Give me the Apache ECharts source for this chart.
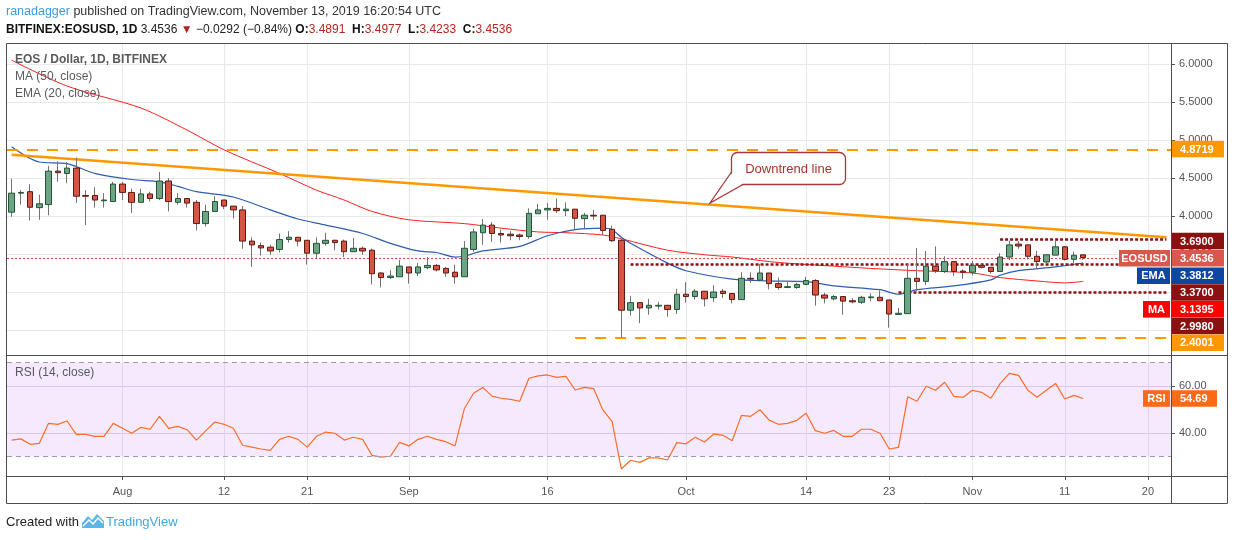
<!DOCTYPE html>
<html>
<head>
<meta charset="utf-8">
<title>EOS / Dollar, 1D, BITFINEX</title>
<script src="https://cdn.jsdelivr.net/npm/echarts/dist/echarts.min.js"></script>
<style>
  html, body { margin: 0; padding: 0; background: #ffffff; }
  #chart { width: 1234px; height: 540px; }
</style>
</head>
<body>
<div id="chart"></div>
<script>
// daily candles, 2019-07-20 .. 2019-11-13 (axis runs on to 2019-11-22)
var dates = [];
(function () {
  var t0 = Date.UTC(2019, 6, 20);
  for (var i = 0; i < 126; i++) {
    dates.push(new Date(t0 + i * 86400000).toISOString().slice(0, 10));
  }
})();

var tickDates = ['2019-08-01', '2019-08-12', '2019-08-21', '2019-09-01', '2019-09-16', '2019-10-01',
  '2019-10-14', '2019-10-23', '2019-11-01', '2019-11-11', '2019-11-20'];
var tickLabels = ['Aug', '12', '21', 'Sep', '16', 'Oct', '14', '23', 'Nov', '11', '20'];

var opens = [4.05, 4.30, 4.32, 4.11, 4.15, 4.59, 4.56, 4.63, 4.27, 4.27,
  4.20, 4.19, 4.42, 4.31, 4.18, 4.29, 4.23, 4.46, 4.18, 4.23,
  4.18, 3.90, 4.06, 4.21, 4.13, 4.08, 3.67, 3.61, 3.59, 3.56,
  3.69, 3.72, 3.68, 3.51, 3.64, 3.68, 3.67, 3.53, 3.575, 3.55,
  3.25, 3.19, 3.20, 3.33, 3.25, 3.32, 3.35, 3.31, 3.26, 3.20,
  3.56, 3.78, 3.88, 3.77, 3.76, 3.75, 3.73, 4.03, 4.08, 4.10,
  4.07, 4.09, 3.965, 4.01, 4.01, 3.825, 3.68, 2.76, 2.86, 2.79,
  2.815, 2.825, 2.77, 2.97, 2.94, 3.01, 2.925, 3.01, 2.98, 2.90,
  3.18, 3.155, 3.25, 3.11, 3.06, 3.06, 3.10, 3.15, 2.96, 2.91,
  2.94, 2.885, 2.865, 2.925, 2.93, 2.895, 2.705, 2.715, 3.18, 3.14,
  3.34, 3.27, 3.40, 3.275, 3.26, 3.35, 3.325, 3.27, 3.46, 3.63,
  3.62, 3.47, 3.395, 3.485, 3.595, 3.43, 3.4891];
var highs = [4.49, 4.34, 4.42, 4.28, 4.66, 4.72, 4.71, 4.77, 4.34, 4.38,
  4.30, 4.45, 4.45, 4.36, 4.36, 4.32, 4.58, 4.50, 4.30, 4.23,
  4.21, 4.15, 4.26, 4.21, 4.13, 4.13, 3.72, 3.65, 3.62, 3.77,
  3.80, 3.72, 3.68, 3.72, 3.78, 3.69, 3.69, 3.71, 3.60, 3.57,
  3.26, 3.29, 3.42, 3.33, 3.38, 3.46, 3.37, 3.33, 3.36, 3.67,
  3.83, 3.96, 3.92, 3.82, 3.80, 3.77, 4.10, 4.16, 4.17, 4.23,
  4.18, 4.09, 4.04, 4.08, 4.01, 3.87, 3.70, 2.95, 2.86, 2.91,
  2.87, 2.825, 3.04, 3.13, 3.04, 3.01, 3.09, 3.04, 2.98, 3.26,
  3.26, 3.37, 3.25, 3.19, 3.14, 3.12, 3.20, 3.17, 2.99, 2.96,
  2.94, 2.92, 2.95, 2.98, 3.02, 2.895, 2.79, 3.38, 3.58, 3.54,
  3.60, 3.47, 3.40, 3.30, 3.41, 3.37, 3.325, 3.51, 3.675, 3.67,
  3.62, 3.54, 3.49, 3.69, 3.605, 3.53, 3.4977];
var lows = [3.99, 4.15, 3.94, 3.95, 4.01, 4.45, 4.43, 4.17, 3.88, 4.11,
  4.11, 4.19, 4.21, 4.04, 4.17, 4.19, 4.21, 4.06, 4.15, 4.11,
  3.81, 3.86, 4.06, 4.09, 3.97, 3.57, 3.33, 3.48, 3.49, 3.52,
  3.65, 3.60, 3.36, 3.44, 3.61, 3.55, 3.46, 3.53, 3.49, 3.10,
  3.06, 3.17, 3.20, 3.11, 3.21, 3.30, 3.27, 3.20, 3.11, 3.20,
  3.53, 3.62, 3.66, 3.65, 3.68, 3.68, 3.70, 4.03, 3.95, 4.04,
  4.00, 3.82, 3.825, 3.95, 3.75, 3.66, 2.40, 2.69, 2.59, 2.70,
  2.77, 2.675, 2.71, 2.86, 2.90, 2.81, 2.87, 2.92, 2.85, 2.90,
  3.12, 3.14, 3.035, 3.03, 3.05, 3.04, 3.09, 2.82, 2.85, 2.89,
  2.70, 2.85, 2.84, 2.88, 2.885, 2.53, 2.70, 2.715, 3.01, 3.09,
  3.25, 3.25, 3.21, 3.175, 3.22, 3.31, 3.24, 3.27, 3.42, 3.57,
  3.43, 3.30, 3.38, 3.485, 3.415, 3.38, 3.4233];
var closes = [4.30, 4.31, 4.115, 4.16, 4.59, 4.57, 4.63, 4.26, 4.26, 4.21,
  4.21, 4.42, 4.31, 4.18, 4.29, 4.23, 4.46, 4.19, 4.23, 4.17,
  3.90, 4.06, 4.19, 4.13, 4.08, 3.67, 3.62, 3.58, 3.54, 3.69,
  3.72, 3.67, 3.51, 3.64, 3.68, 3.65, 3.53, 3.575, 3.54, 3.24,
  3.19, 3.21, 3.34, 3.25, 3.33, 3.35, 3.29, 3.25, 3.20, 3.575,
  3.79, 3.88, 3.77, 3.75, 3.74, 3.73, 4.035, 4.08, 4.10, 4.07,
  4.09, 3.97, 4.01, 4.00, 3.81, 3.675, 2.76, 2.86, 2.79, 2.825,
  2.825, 2.77, 2.97, 2.94, 3.01, 2.91, 3.00, 2.98, 2.90, 3.18,
  3.17, 3.25, 3.11, 3.06, 3.07, 3.10, 3.15, 2.96, 2.92, 2.94,
  2.88, 2.87, 2.93, 2.935, 2.885, 2.71, 2.72, 3.18, 3.14, 3.34,
  3.28, 3.40, 3.27, 3.26, 3.35, 3.325, 3.27, 3.46, 3.62, 3.605,
  3.47, 3.40, 3.49, 3.595, 3.43, 3.4828, 3.4536];

// indicator lines
var ma50 = [['2019-07-20', 6.05], ['2019-07-26', 5.71], ['2019-08-03', 5.42], ['2019-08-08', 5.13],
  ['2019-08-12', 4.87], ['2019-08-18', 4.56], ['2019-08-22', 4.34], ['2019-08-25', 4.21],
  ['2019-08-28', 4.06], ['2019-09-01', 3.95], ['2019-09-07', 3.90], ['2019-09-11', 3.84],
  ['2019-09-15', 3.79], ['2019-09-18', 3.78], ['2019-09-22', 3.75], ['2019-09-24', 3.70],
  ['2019-09-29', 3.55], ['2019-10-03', 3.49], ['2019-10-06', 3.46], ['2019-10-10', 3.40],
  ['2019-10-13', 3.37], ['2019-10-17', 3.34], ['2019-10-21', 3.31], ['2019-10-26', 3.28],
  ['2019-11-01', 3.25], ['2019-11-04', 3.19], ['2019-11-08', 3.145], ['2019-11-11', 3.12],
  ['2019-11-13', 3.1395]];
var ema20 = [['2019-07-20', 4.91], ['2019-07-23', 4.71], ['2019-07-26', 4.69], ['2019-07-29', 4.56],
  ['2019-08-02', 4.48], ['2019-08-05', 4.45], ['2019-08-07', 4.39], ['2019-08-09', 4.32],
  ['2019-08-13', 4.25], ['2019-08-17', 4.08], ['2019-08-20', 3.96], ['2019-08-23', 3.88],
  ['2019-08-27', 3.77], ['2019-08-30', 3.64], ['2019-09-02', 3.54], ['2019-09-04', 3.52],
  ['2019-09-06', 3.46], ['2019-09-07', 3.47], ['2019-09-09', 3.54], ['2019-09-13', 3.60],
  ['2019-09-16', 3.74], ['2019-09-19', 3.82], ['2019-09-22', 3.84], ['2019-09-23', 3.82],
  ['2019-09-24', 3.72], ['2019-09-25', 3.64], ['2019-09-29', 3.38], ['2019-10-01', 3.28],
  ['2019-10-06', 3.17], ['2019-10-10', 3.145], ['2019-10-14', 3.136], ['2019-10-17', 3.08],
  ['2019-10-22', 3.03], ['2019-10-24', 2.97], ['2019-10-26', 3.03], ['2019-10-30', 3.08],
  ['2019-11-03', 3.16], ['2019-11-04', 3.22], ['2019-11-06', 3.28], ['2019-11-10', 3.33],
  ['2019-11-13', 3.3812]];
var rsi14 = [37.0, 37.5, 35.2, 35.6, 44.1, 43.7, 45.1, 39.4, 39.4, 38.6,
  38.6, 44.1, 42.0, 39.9, 42.4, 41.6, 47.1, 42.0, 42.8, 41.4,
  37.0, 40.9, 44.7, 43.7, 42.0, 34.8, 34.0, 33.2, 32.6, 37.3,
  38.6, 37.3, 34.0, 38.6, 40.4, 39.9, 37.0, 38.2, 37.3, 30.5,
  29.7, 30.1, 36.0, 34.5, 37.3, 38.6, 37.3, 36.3, 34.5, 50.3,
  56.9, 59.4, 55.7, 54.8, 54.3, 53.5, 63.3, 64.3, 64.7, 63.7,
  64.1, 58.3, 59.4, 58.9, 49.8, 44.8, 24.7, 28.4, 27.5, 29.4,
  29.4, 28.5, 35.9, 35.4, 38.2, 36.2, 39.6, 39.0, 36.7, 47.5,
  47.1, 49.9, 45.5, 43.7, 44.1, 45.4, 48.4, 41.0, 39.9, 41.1,
  38.6, 38.6, 41.6, 41.6, 39.9, 33.2, 33.9, 55.4, 53.5, 59.9,
  58.2, 61.6, 55.6, 55.2, 58.2, 57.3, 54.8, 61.0, 65.4, 64.5,
  58.2, 55.2, 58.2, 61.1, 54.5, 56.0, 54.69];

var trendLine = [['2019-07-20', 4.807], ['2019-11-22', 3.72]];
var levelValues = [4.8719, 3.69, 3.37, 2.998, 2.4001];
var levelStarts = [null, '2019-11-04', '2019-09-25', '2019-10-24', '2019-09-19'];
var rsiBand = [30, 70];

// styles for the levels
var ORANGE = '#ff9800', DARKRED = '#8b1010';
var levelStyles = [
  { color: ORANGE, width: 2, type: [11, 9] },
  { color: DARKRED, width: 2.5, type: [3, 2] },
  { color: DARKRED, width: 2.5, type: [3, 2] },
  { color: DARKRED, width: 2.5, type: [3, 2] },
  { color: ORANGE, width: 2, type: [11, 9] }
];

var FONT = '"Liberation Sans", Arial, sans-serif';
var last = closes.length - 1;

function isTick(index, value) { return tickDates.indexOf(value) >= 0; }

var wickData = [], bodyData = [];
for (var i = 0; i < closes.length; i++) {
  wickData.push([opens[i], closes[i], lows[i], highs[i]]);
  bodyData.push([opens[i], closes[i], Math.min(opens[i], closes[i]), Math.max(opens[i], closes[i])]);
}

var levelLines = [];
levelValues.forEach(function (v, k) {
  if (levelStarts[k] === null) {
    levelLines.push({ yAxis: v, lineStyle: levelStyles[k] });
  } else {
    levelLines.push([
      { coord: [levelStarts[k], v], lineStyle: levelStyles[k] },
      { coord: [dates[dates.length - 1], v], lineStyle: levelStyles[k] }
    ]);
  }
});
levelLines.push({ yAxis: closes[last], lineStyle: { color: '#e2463a', width: 1, type: [2, 2] } });

// right-hand price tags (layout only, texts come from the data)
var tags = [
  { name: null, text: levelValues[0].toFixed(4), color: ORANGE, y: 149 },
  { name: null, text: levelValues[1].toFixed(4), color: DARKRED, y: 241 },
  { name: 'EOSUSD', text: closes[last].toFixed(4), color: '#d9584a', y: 258.3, nameX: 1119 },
  { name: 'EMA', text: ema20[ema20.length - 1][1].toFixed(4), color: '#0d47a1', y: 275.7, nameX: 1137 },
  { name: null, text: levelValues[2].toFixed(4), color: DARKRED, y: 292.5 },
  { name: 'MA', text: ma50[ma50.length - 1][1].toFixed(4), color: '#ff0000', y: 309.3, nameX: 1143 },
  { name: null, text: levelValues[3].toFixed(4), color: DARKRED, y: 326 },
  { name: null, text: levelValues[4].toFixed(4), color: ORANGE, y: 342.7 },
  { name: 'RSI', text: rsi14[last].toFixed(2), color: '#fd6a17', y: 398.5, nameX: 1143, w: 45 }
];

var graphics = [];
function txt(x, y, s, font, fill, align) {
  graphics.push({ type: 'text', z: 120, silent: true,
    style: { x: x, y: y, text: s, font: font, fill: fill, align: align || 'left', verticalAlign: 'middle' } });
}
function ln(x1, y1, x2, y2, color, w) {
  graphics.push({ type: 'line', z: 110, silent: true,
    shape: { x1: x1, y1: y1, x2: x2, y2: y2 }, style: { stroke: color, lineWidth: w || 1 } });
}

// frame
graphics.push({ type: 'rect', z: 110, silent: true, shape: { x: 6.5, y: 43.5, width: 1221, height: 460 },
  style: { fill: 'none', stroke: '#4d4d4d', lineWidth: 1 } });
ln(6, 355.5, 1228, 355.5, '#4d4d4d');
ln(6, 476.5, 1228, 476.5, '#4d4d4d');
ln(1171.5, 43, 1171.5, 503, '#4d4d4d');

tags.forEach(function (t) {
  var h = 16.6, w = t.w || 52;
  graphics.push({ type: 'rect', z: 115, silent: true, shape: { x: 1172, y: t.y - h / 2, width: w, height: h },
    style: { fill: t.color } });
  ln(1172, t.y, 1176, t.y, '#ffffff');
  txt(1180, t.y + 0.5, t.text, 'bold 11px ' + FONT, '#ffffff');
  if (t.name) {
    graphics.push({ type: 'rect', z: 115, silent: true, shape: { x: t.nameX, y: t.y - h / 2, width: 1170 - t.nameX, height: h },
      style: { fill: t.color } });
    txt((t.nameX + 1170) / 2, t.y + 0.5, t.name, 'bold 11px ' + FONT, '#ffffff', 'center');
  }
});

// header
graphics.push({ type: 'text', z: 120, silent: true, style: { x: 6, y: 12, verticalAlign: 'middle',
  text: '{u|ranadagger} published on TradingView.com, November 13, 2019 16:20:54 UTC',
  font: '12.5px ' + FONT, fill: '#333333',
  rich: { u: { fill: '#3b9be0', font: '12.5px ' + FONT } } } });
graphics.push({ type: 'text', z: 120, silent: true, style: { x: 6, y: 30, verticalAlign: 'middle',
  text: '{b|BITFINEX:EOSUSD, 1D} 3.4536 {r|\u25BC} \u22120.0292 (\u22120.84%) {b|O:}{r|3.4891}  {b|H:}{r|3.4977}  {b|L:}{r|3.4233}  {b|C:}{r|3.4536}',
  font: '12px ' + FONT, fill: '#222222',
  rich: { b: { font: 'bold 12px ' + FONT, fill: '#111111' }, r: { font: '12px ' + FONT, fill: '#b3261e' } } } });

// pane legends
txt(15, 60, 'EOS / Dollar, 1D, BITFINEX', 'bold 12px ' + FONT, '#5a5a5a');
txt(15, 77, 'MA (50, close)', '12px ' + FONT, '#5a5a5a');
txt(15, 94, 'EMA (20, close)', '12px ' + FONT, '#5a5a5a');
txt(15, 373, 'RSI (14, close)', '12px ' + FONT, '#5a5a5a');

// callout
graphics.push({ type: 'rect', z: 112, silent: true, shape: { x: 731.5, y: 152.5, width: 114, height: 32, r: 6 },
  style: { fill: '#ffffff', stroke: '#a8393a', lineWidth: 1.3 } });
graphics.push({ type: 'polygon', z: 113, silent: true, shape: { points: [[732.8, 172], [711, 202], [743, 183.8]] },
  style: { fill: '#ffffff' } });
graphics.push({ type: 'polyline', z: 114, silent: true, shape: { points: [[731.5, 172], [710, 203], [743, 184.5]] },
  style: { stroke: '#a8393a', lineWidth: 1.3, fill: null } });
txt(788.5, 169, 'Downtrend line', '13px ' + FONT, '#a8322d', 'center');

// footer
txt(6, 522, 'Created with', '13px ' + FONT, '#222222');
graphics.push({ type: 'polygon', z: 120, silent: true,
  shape: { points: [[82, 528], [82, 523], [88, 516], [92, 520], [97, 514], [104, 521], [104, 528]] },
  style: { fill: '#5cb6e8' } });
graphics.push({ type: 'polyline', z: 121, silent: true,
  shape: { points: [[83, 526], [89, 520], [93, 524], [98, 518], [103, 523]] },
  style: { stroke: '#ffffff', lineWidth: 1.4, fill: null } });
txt(106, 522, 'TradingView', '13px ' + FONT, '#43a6e2');

var gridLine = { color: '#e8e8e8', width: 1 };

var option = {
  animation: false,
  backgroundColor: '#ffffff',
  textStyle: { fontFamily: FONT },
  grid: [
    { left: 7, right: 63, top: 43, height: 312 },
    { left: 7, right: 63, top: 355, height: 121 }
  ],
  xAxis: [
    { type: 'category', gridIndex: 0, data: dates, boundaryGap: true,
      axisLine: { show: false }, axisTick: { show: false }, axisLabel: { show: false },
      splitLine: { show: true, interval: isTick, alignWithLabel: true, lineStyle: gridLine } },
    { type: 'category', gridIndex: 1, data: dates, boundaryGap: true,
      axisLine: { show: false },
      axisTick: { show: true, interval: isTick, alignWithLabel: true, length: 4, lineStyle: { color: '#555555' } },
      axisLabel: { show: true, interval: isTick, color: '#555555', fontSize: 11, margin: 10,
        formatter: function (v) { var k = tickDates.indexOf(v); return k >= 0 ? tickLabels[k] : ''; } },
      splitLine: { show: true, interval: isTick, alignWithLabel: true, lineStyle: gridLine } }
  ],
  yAxis: [
    { type: 'value', gridIndex: 0, position: 'right', min: 2.171, max: 6.276, splitNumber: 8, scale: true,
      axisLine: { show: false },
      axisTick: { show: true, length: 4, lineStyle: { color: '#555555' } },
      axisLabel: { color: '#555555', fontSize: 11, margin: 8, showMinLabel: false, showMaxLabel: false,
        formatter: function (v) {
          var k = Math.round(v * 2);
          return (Math.abs(v * 2 - k) < 1e-6 && v >= 2.5 && v <= 6.0) ? v.toFixed(4) : '';
        } },
      splitLine: { show: true, lineStyle: gridLine } },
    { type: 'value', gridIndex: 1, position: 'right', min: 21.7, max: 73.2, splitNumber: 3, scale: true,
      axisLine: { show: false },
      axisTick: { show: true, length: 4, lineStyle: { color: '#555555' } },
      axisLabel: { color: '#555555', fontSize: 11, margin: 8, showMinLabel: false, showMaxLabel: false,
        formatter: function (v) { return (v === 40 || v === 60) ? v.toFixed(2) : ''; } },
      splitLine: { show: true, lineStyle: { color: '#e0d6ea', width: 1 } } }
  ],
  series: [
    { name: 'MA', type: 'line', xAxisIndex: 0, yAxisIndex: 0, data: ma50, symbol: 'none', smooth: 0.3,
      z: 3, lineStyle: { color: '#ff2020', width: 1 } },
    { name: 'EMA', type: 'line', xAxisIndex: 0, yAxisIndex: 0, data: ema20, symbol: 'none', smooth: 0.3,
      z: 3, lineStyle: { color: '#2e5cb0', width: 1.2 } },
    { name: 'Trend', type: 'line', xAxisIndex: 0, yAxisIndex: 0, data: trendLine, symbol: 'none',
      z: 4, lineStyle: { color: ORANGE, width: 2.5 } },
    { name: 'wick', type: 'candlestick', xAxisIndex: 0, yAxisIndex: 0, data: wickData, barWidth: 1, z: 5,
      itemStyle: { color: '#737375', color0: '#737375', borderColor: '#737375', borderColor0: '#737375', borderWidth: 1 } },
    { name: 'EOSUSD', type: 'candlestick', xAxisIndex: 0, yAxisIndex: 0, data: bodyData, barWidth: 6, z: 6,
      itemStyle: { color: '#6ba583', color0: '#d75442', borderColor: '#225437', borderColor0: '#5b1a13', borderWidth: 1 },
      markLine: { silent: true, symbol: ['none', 'none'], label: { show: false }, animation: false, data: levelLines } },
    { name: 'RSI', type: 'line', xAxisIndex: 1, yAxisIndex: 1, data: rsi14, symbol: 'none', z: 4,
      lineStyle: { color: '#fb6c2a', width: 1.2 },
      markArea: { silent: true, itemStyle: { color: 'rgba(156, 39, 250, 0.1)' },
        data: [[{ yAxis: rsiBand[0] }, { yAxis: rsiBand[1] }]] },
      markLine: { silent: true, symbol: ['none', 'none'], label: { show: false },
        lineStyle: { color: '#a29aab', width: 1, type: [5, 4] },
        data: [{ yAxis: rsiBand[0] }, { yAxis: rsiBand[1] }] } }
  ],
  graphic: graphics
};

var chart = echarts.init(document.getElementById('chart'));
chart.setOption(option);
</script>
</body>
</html>
